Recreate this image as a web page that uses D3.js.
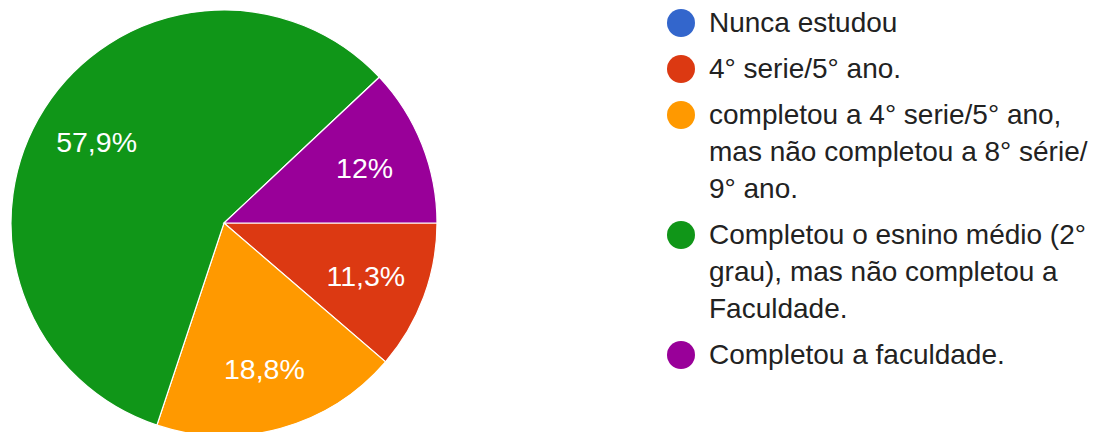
<!DOCTYPE html>
<html>
<head>
<meta charset="utf-8">
<script src="https://cdn.jsdelivr.net/npm/d3@7"></script>
<style>
  html, body { margin: 0; padding: 0; background: #fff; }
  svg { display: block; }
  text { font-family: Arial, "Liberation Sans", sans-serif; }
</style>
</head>
<body>
<svg id="chart" width="1098" height="432"></svg>
<script>
// Data (percent of responses)
const categories = [
  "Nunca estudou",
  "4° serie/5° ano.",
  "completou a 4° serie/5° ano, mas não completou a 8° série/ 9° ano.",
  "Completou o esnino médio (2° grau), mas não completou a Faculdade.",
  "Completou a faculdade."
];
const legendLines = [
  ["Nunca estudou"],
  ["4° serie/5° ano."],
  ["completou a 4° serie/5° ano,", "mas não completou a 8° série/", "9° ano."],
  ["Completou o esnino médio (2°", "grau), mas não completou a", "Faculdade."],
  ["Completou a faculdade."]
];
const values = [0, 11.3, 18.8, 57.9, 12];
const sliceLabels = ["", "11,3%", "18,8%", "57,9%", "12%"];
const colors = ["#3366cc", "#dc3912", "#ff9900", "#109618", "#990099"];

const svg = d3.select("#chart");
const cx = 224, cy = 223, R = 213;

const color = d3.scaleOrdinal().domain(categories).range(colors);

const pie = d3.pie()
  .sort(null)
  .value(d => d.value)
  .startAngle(Math.PI / 2)
  .endAngle(Math.PI / 2 + 2 * Math.PI);

const data = categories.map((c, i) => ({ cat: c, value: values[i], label: sliceLabels[i] }));
const arcs = pie(data);

const arc = d3.arc().innerRadius(0).outerRadius(R);
const labelArc = d3.arc().innerRadius(R * 0.71).outerRadius(R * 0.71);

const g = svg.append("g").attr("transform", `translate(${cx},${cy})`);

g.selectAll("path")
  .data(arcs.filter(d => d.data.value > 0))
  .join("path")
  .attr("d", arc)
  .attr("fill", d => color(d.data.cat))
  .attr("stroke", "#fff")
  .attr("stroke-width", 1.2);

g.selectAll("text.lbl")
  .data(arcs.filter(d => d.data.value > 0))
  .join("text")
  .attr("class", "lbl")
  .attr("transform", d => `translate(${labelArc.centroid(d)})`)
  .attr("text-anchor", "middle")
  .attr("dy", "0.36em")
  .attr("fill", "#fff")
  .attr("font-size", 28.5)
  .text(d => d.data.label);

// Legend
const lineH = 37, itemGap = 9;
let baseline = 32;
const leg = svg.append("g");
legendLines.forEach((lines, i) => {
  leg.append("circle")
    .attr("cx", 681)
    .attr("cy", baseline - 9)
    .attr("r", 14)
    .attr("fill", color(categories[i]));
  const t = leg.append("text")
    .attr("x", 709)
    .attr("y", baseline)
    .attr("font-size", 28)
    .attr("fill", "#222");
  lines.forEach((ln, j) => {
    t.append("tspan").attr("x", 709).attr("y", baseline + j * lineH).text(ln);
  });
  baseline += lines.length * lineH + itemGap;
});
</script>
</body>
</html>
